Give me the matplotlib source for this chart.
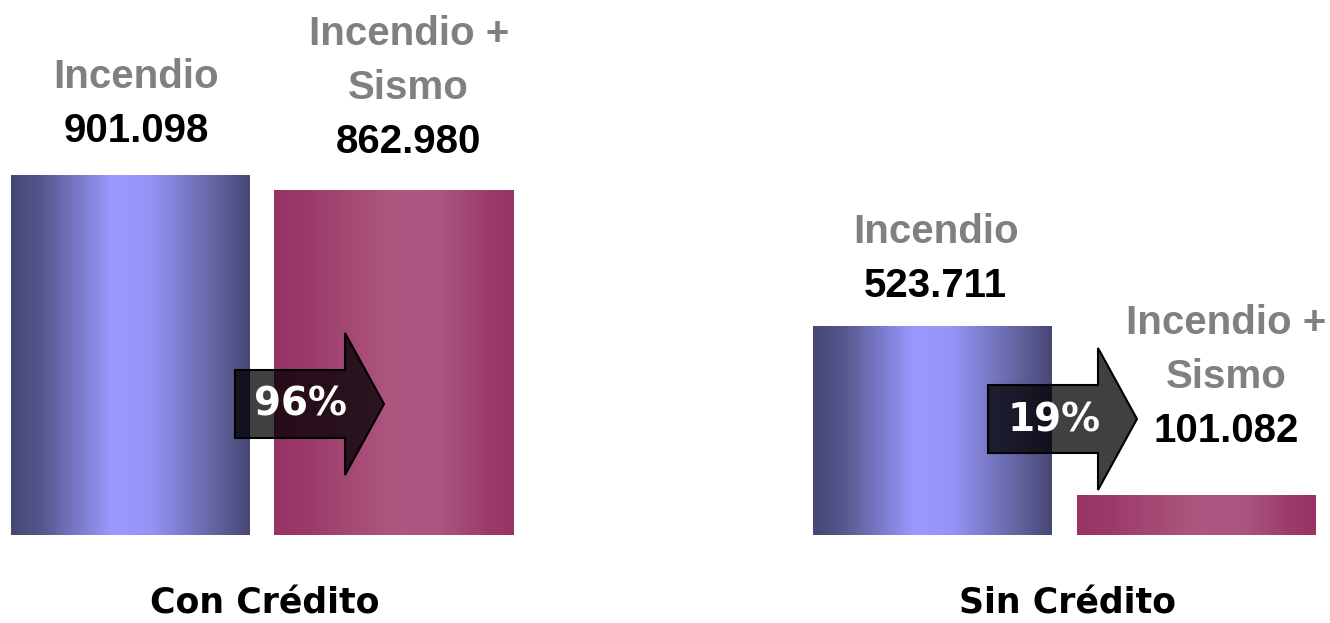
import matplotlib.pyplot as plt
import numpy as np
from matplotlib.colors import LinearSegmentedColormap
from matplotlib.patches import Polygon

groups = ['Con Crédito', 'Sin Crédito']
series = ['Incendio', 'Incendio +\nSismo']
incendio = [901098, 523711]
incendio_sismo = [862980, 101082]

# figure is laid out in pixels: x from 0 to 1330, zero line 88 px above bottom
W, H = 1330, 623
k = 360 / 901098  # px per unit
fig = plt.figure(figsize=(W / 100, H / 100), dpi=100)
ax = fig.add_axes([0, 0, 1, 1])
ax.axis('off')

blue = LinearSegmentedColormap.from_list('b', [(0, '#474775'), (0.12, '#55558a'), (0.42, '#9999ff'),
                                              (0.58, '#9595f8'), (0.88, '#5f5f9a'), (1, '#474775')])
purple = LinearSegmentedColormap.from_list('p', [(0, '#993366'), (0.15, '#9c3b69'), (0.5, '#ad5780'),
                                                (0.7, '#aa5480'), (0.9, '#9c3a6a'), (1, '#993366')])

group_x = [262, 1064.5]
offset = 131.7
width = 239
grad = np.linspace(0, 1, 256).reshape(1, -1)


def fmt(v):
    return f"{v:,}".replace(',', '.')


def gradient_bars(xs, vals, cmap):
    bars = ax.bar(xs, vals, width=width, color='none', linewidth=0)
    for b in bars:
        im = ax.imshow(grad, cmap=cmap, aspect='auto', zorder=1,
                       extent=[b.get_x(), b.get_x() + b.get_width(), 0, b.get_height()])
        im.set_clip_path(b)
    return bars


bars1 = gradient_bars([g - offset for g in group_x], incendio, blue)
bars2 = gradient_bars([g + offset for g in group_x], incendio_sismo, purple)

# label offsets (dx, dy in px above bar top for the value line)
label_pos = {
    (0, 0): (6, 33), (0, 1): (15, 37),
    (1, 0): (3, 29), (1, 1): (30, 53),
}
for gi in range(2):
    for si, bars in enumerate([bars1, bars2]):
        b = bars[gi]
        v = b.get_height()
        cx = b.get_x() + b.get_width() / 2
        dx, dy = label_pos[(gi, si)]
        ax.annotate(fmt(v), (cx, v), xytext=(dx, dy), textcoords='offset pixels',
                    ha='center', va='baseline', fontsize=29, fontweight='bold',
                    family='Liberation Sans', color='black', zorder=5)
        lines = series[si].split('\n')[::-1]
        for li, line in enumerate(lines):
            ax.annotate(line, (cx, v), xytext=(dx, dy + 54 * (li + 1)), textcoords='offset pixels',
                        ha='center', va='baseline', fontsize=29, fontweight='bold',
                        family='Liberation Sans', color='#808080', zorder=5)


def py(p):
    # pixel from top -> data y
    return (535 - p) / k


# arrows with percentage change
arrow_start = [235, 988]
arrow_mid = [404, 419]
for gi in range(2):
    x0 = arrow_start[gi]
    ym = arrow_mid[gi]
    xb, xt = x0 + 110, x0 + 149
    pts = [(x0, py(ym - 34)), (xb, py(ym - 34)), (xb, py(ym - 71)), (xt, py(ym)),
           (xb, py(ym + 71)), (xb, py(ym + 34)), (x0, py(ym + 34))]
    ax.add_patch(Polygon(pts, closed=True, facecolor=(0, 0, 0, 0.75), edgecolor='black',
                         linewidth=1.5, zorder=3))
    pct = round(100 * incendio_sismo[gi] / incendio[gi])
    ax.text(x0 + 66, py(ym + 1), f"{pct}%", ha='center', va='center', fontsize=28,
            fontweight='bold', family='DejaVu Sans', color='white', zorder=4)

for gi, g in enumerate(groups):
    ax.annotate(g, (group_x[gi], 0), xytext=(3, -79), textcoords='offset pixels',
                ha='center', va='baseline', fontsize=25, fontweight='bold',
                family='DejaVu Sans', color='black')

ax.set_xlim(0, W)
ax.set_ylim(-88 / k, 535 / k)
fig.savefig('out.png', dpi=100)
